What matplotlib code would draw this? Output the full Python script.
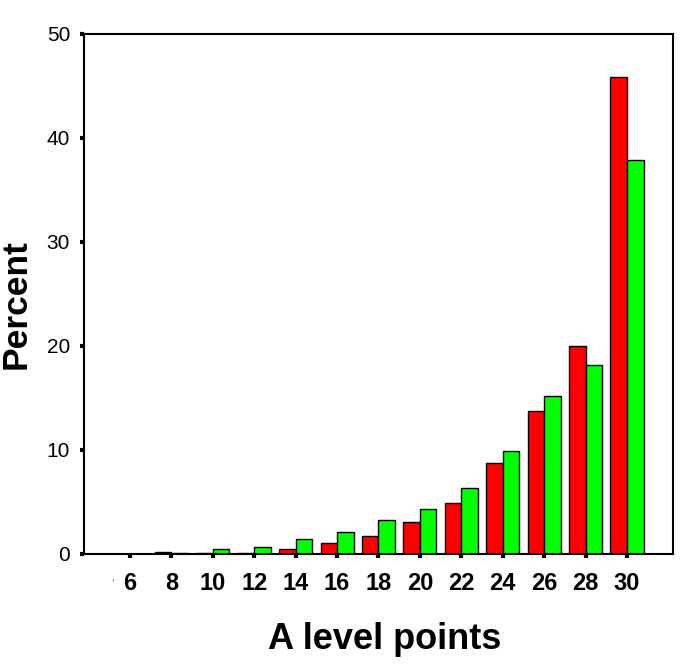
import numpy as np
import matplotlib
matplotlib.use('Agg')
import matplotlib.pyplot as plt

plt.rcParams['font.family'] = ['Liberation Sans', 'DejaVu Sans']

# A level points categories and percentages (two groups)
points = ['6', '8', '10', '12', '14', '16', '18', '20', '22', '24', '26', '28', '30']
red_pct = [0.0, 0.15, 0.1, 0.1, 0.5, 1.1, 1.7, 3.1, 4.9, 8.7, 13.7, 20.0, 45.9]
green_pct = [0.0, 0.1, 0.5, 0.7, 1.4, 2.1, 3.3, 4.3, 6.3, 9.9, 15.2, 18.2, 37.9]

fig = plt.figure(figsize=(6.85, 6.66), dpi=100, facecolor='w')
ax = fig.add_axes([0.1226, 0.1682, 0.8599, 0.7808])

x = np.arange(len(points))
w = 0.40
ax.bar(x - w/2, red_pct, w, color='#ff0000', edgecolor='black', linewidth=1.0)
ax.bar(x + w/2, green_pct, w, color='#00ff00', edgecolor='black', linewidth=1.0)

ax.set_xlim(-1.11, len(points) - 1 + 1.11)
ax.set_ylim(0, 50)
ax.set_yticks([0, 10, 20, 30, 40, 50])
ax.set_xticks(x)
ax.set_xticklabels(points, fontsize=17, fontweight='bold')
ax.tick_params(axis='x', direction='out', length=3, width=3, pad=10)
ax.tick_params(axis='y', direction='out', length=3, width=3, pad=7, labelsize=15)

# stray fragment of a label left of "6"
ax.text(-0.43, -2.3, "'", fontsize=9, color='#888888', ha='center', va='top')

for s in ax.spines.values():
    s.set_linewidth(1.5)

ax.set_ylabel('Percent', fontsize=25.5, fontweight='bold')
ax.yaxis.set_label_coords(-0.087, 0.48)
ax.set_xlabel('A level points', fontsize=26, fontweight='bold')
ax.xaxis.set_label_coords(0.51, -0.13)

fig.savefig('out.png', dpi=100)
